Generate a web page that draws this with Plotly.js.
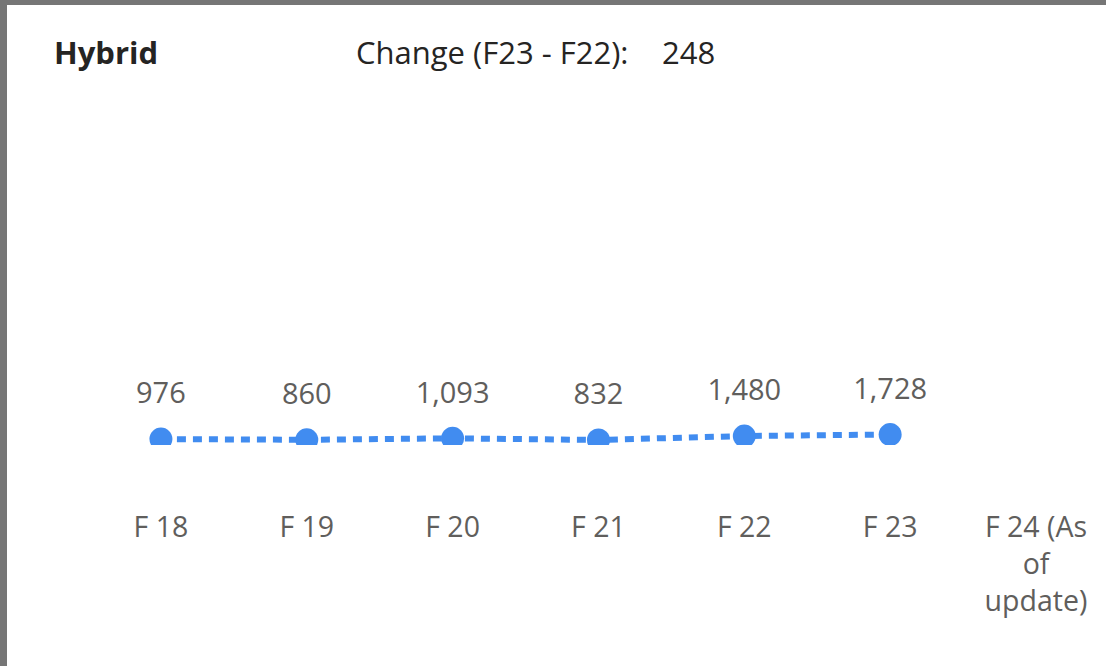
<!DOCTYPE html>
<html>
<head>
<meta charset="utf-8">
<script src="https://cdn.plot.ly/plotly-3.0.1.min.js"></script>
<style>
html,body{margin:0;padding:0;background:#fff;}
#wrap{width:1099px;height:661px;border-left:7px solid #767676;border-top:5px solid #767676;background:#fff;}
#chart{width:1099px;height:661px;}
</style>
</head>
<body>
<div id="wrap"><div id="chart"></div></div>
<script>
const categories = ["F 18","F 19","F 20","F 21","F 22","F 23","F 24 (As<br>of<br>update)"];
const hybrid = [976, 860, 1093, 832, 1480, 1728, null];
const chartTitle = "Hybrid";
const changeLabel = "Change (F23 - F22):";
const changeValue = hybrid[5] - hybrid[4];

const blue = "#418CF0";
const font = "Open Sans, Noto Sans, sans-serif";

const labels = hybrid.map(v => v == null ? "" : v.toLocaleString("en-US"));

const traces = [
  {
    x: categories, y: hybrid, type: "scatter", mode: "lines+markers",
    line: {color: blue, width: 6, dash: "9px,7px"},
    marker: {color: blue, size: 23},
    cliponaxis: true, hoverinfo: "skip", showlegend: false
  },
  {
    x: categories, y: hybrid, type: "scatter", mode: "markers+text",
    text: labels, textposition: "top center",
    textfont: {family: font, size: 29, color: "#605E5C"},
    marker: {color: "rgba(0,0,0,0)", size: 44},
    cliponaxis: false, hoverinfo: "skip", showlegend: false
  }
];

const layout = {
  width: 1099, height: 661,
  margin: {l: 81, r: 0, t: 100, b: 221},
  paper_bgcolor: "#fff", plot_bgcolor: "#fff",
  font: {family: font},
  title: {
    text: "<b>" + chartTitle + "</b>",
    font: {family: font, size: 31, color: "#252423"},
    xref: "container", yref: "container",
    x: 47/1099, xanchor: "left", y: 1 - 48/661, yanchor: "middle"
  },
  xaxis: {
    type: "category", range: [-0.5, 6.48],
    showgrid: false, zeroline: false, showline: false, ticks: "",
    ticklabelstandoff: 62,
    tickfont: {family: font, size: 28.5, color: "#605E5C"}
  },
  yaxis: {
    range: [0, 56000], visible: false,
    showgrid: false, zeroline: false, showline: false
  },
  annotations: [
    {text: changeLabel, xref: "paper", yref: "paper", x: (347-81)/1018, y: 1 + 53/340,
     xanchor: "left", yanchor: "middle", showarrow: false,
     font: {family: font, size: 31, color: "#252423"}},
    {text: String(changeValue), xref: "paper", yref: "paper", x: (653-81)/1018, y: 1 + 53/340,
     xanchor: "left", yanchor: "middle", showarrow: false,
     font: {family: font, size: 31, color: "#252423"}}
  ]
};

Plotly.newPlot("chart", traces, layout, {displayModeBar: false, staticPlot: true});
</script>
</body>
</html>
